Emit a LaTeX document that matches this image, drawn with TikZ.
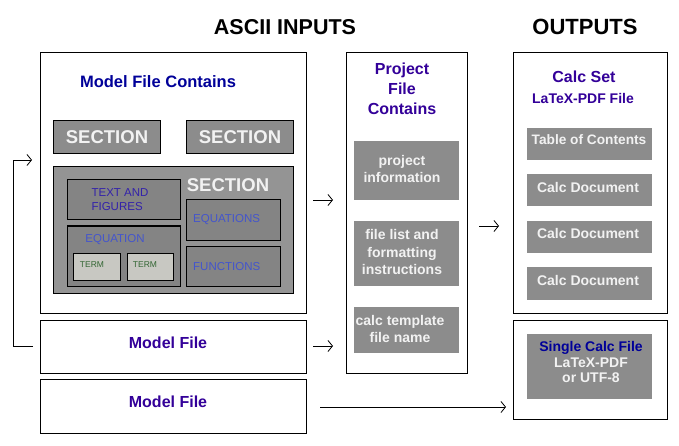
\documentclass[tikz,border=0pt]{standalone}
\usepackage{fontspec}
\setmainfont{Liberation Sans}
\usepackage{tikz}
\usetikzlibrary{arrows.meta}
\definecolor{boxgray}{RGB}{140,140,140}
\definecolor{secgray}{RGB}{148,148,148}
\definecolor{partgray}{RGB}{132,132,132}
\definecolor{termgray}{RGB}{200,200,194}
\definecolor{navy}{RGB}{0,0,153}
\definecolor{plum}{RGB}{51,0,153}
\definecolor{eqblue}{RGB}{68,85,204}
\definecolor{figblue}{RGB}{51,34,170}
\definecolor{termgreen}{RGB}{51,102,51}
\definecolor{paper}{RGB}{242,242,242}
\tikzstyle{arrow} = [thick,->,>={Straight Barb[length=4.5pt,width=11pt]}]
\tikzstyle{filebox} = [draw, line width=1pt, fill=white, inner sep=0pt]
\tikzstyle{secbox} = [draw, line width=1pt, fill=boxgray, text=paper, font=\bfseries\fontsize{18.5}{20}\selectfont, inner sep=0pt]
\tikzstyle{partbox} = [draw, line width=1pt, fill=partgray, inner sep=0pt]
\tikzstyle{termbox} = [draw, line width=1pt, fill=termgray, inner sep=0pt]
\tikzstyle{graybox} = [fill=boxgray, text=paper, align=center, inner sep=0pt, font=\bfseries\fontsize{14}{17.5}\selectfont]
\tikzstyle{heading} = [text=plum, align=center, font=\bfseries\fontsize{16}{20}\selectfont]

\begin{document}
\begin{tikzpicture}[x=1pt, y=-1pt]
        \useasboundingbox (0,0) rectangle (679,446);

        % Titles
        \node at (285,27) (inputs) {\bfseries\fontsize{21.5}{24}\selectfont ASCII INPUTS};
        \node at (585,27) (outputs) {\bfseries\fontsize{22}{24}\selectfont OUTPUTS};

        % Model file box
        \node at (173,183) [filebox, minimum width=266, minimum height=260] (model) {};
        \node at (158,82) [heading, text=navy, font=\bfseries\fontsize{16.5}{20}\selectfont] (modeltitle) {Model File Contains};
        \node at (107,137) [secbox, minimum width=107, minimum height=33] (sec1) {SECTION};
        \node at (240,137) [secbox, minimum width=107, minimum height=33] (sec2) {SECTION};

        % Big section
        \node at (173,230) [draw, line width=1pt, fill=secgray, minimum width=240, minimum height=126] (sec3) {};
        \node at (228,185) [text=paper, font=\bfseries\fontsize{18.5}{20}\selectfont] (sec3title) {SECTION};
        \node at (123.5,200) [partbox, minimum width=113, minimum height=40] (textfig) {};
        \node at (120,200) [text=figblue, align=left, font=\fontsize{11.5}{14}\selectfont] (textfiglabel) {TEXT AND\\FIGURES};
        \node at (123.5,256) [partbox, minimum width=113, minimum height=60] (eqn) {};
        \node at (115,240) [text=eqblue, font=\fontsize{11.5}{14}\selectfont] (eqnlabel) {EQUATION};
        \node at (96.5,266.5) [termbox, minimum width=47, minimum height=27] (term1) {};
        \node at (150,266.5) [termbox, minimum width=46, minimum height=27] (term2) {};
        \node at (92,265) [text=termgreen, font=\fontsize{8.5}{10}\selectfont] (term1label) {TERM};
        \node at (145,265) [text=termgreen, font=\fontsize{8.5}{10}\selectfont] (term2label) {TERM};
        \node at (233,220) [partbox, minimum width=94, minimum height=40] (eqns) {};
        \node at (193,220) [right, inner sep=0pt, text=eqblue, font=\fontsize{11.5}{14}\selectfont] (eqnslabel) {EQUATIONS};
        \node at (233,266) [partbox, minimum width=94, minimum height=40] (funcs) {};
        \node at (193,267) [right, inner sep=0pt, text=eqblue, font=\fontsize{11.5}{14}\selectfont] (funcslabel) {FUNCTIONS};

        % Model files
        \node at (173,346.5) [filebox, minimum width=266, minimum height=53] (mf1) {};
        \node at (168,343) [heading] (mf1label) {Model File};
        \node at (173,406) [filebox, minimum width=266, minimum height=54] (mf2) {};
        \node at (168,402) [heading] (mf2label) {Model File};

        % Project file
        \node at (406.5,213) [filebox, minimum width=121, minimum height=320] (project) {};
        \node at (402,89) [heading] (projtitle) {Project\\File\\Contains};
        \node at (406.5,170.5) [graybox, minimum width=105, minimum height=59] (pinfo) {};
        \node at (402,169) [graybox, fill=none] (pinfolabel) {project\\information};
        \node at (406.5,253.5) [graybox, minimum width=105, minimum height=65] (plist) {};
        \node at (402,252) [graybox, fill=none] (plistlabel) {file list and\\formatting\\instructions};
        \node at (406.5,330) [graybox, minimum width=105, minimum height=46] (ptmpl) {};
        \node at (400,329) [graybox, fill=none] (ptmpllabel) {calc template\\file name};

        % Calc set
        \node at (590,183) [filebox, minimum width=154, minimum height=260] (calcset) {};
        \node at (584,77) [heading] (calctitle) {Calc Set};
        \node at (583,98) [heading, font=\bfseries\fontsize{14}{17}\selectfont] (calcsub) {LaTeX-PDF File};
        \node at (589.5,144) [graybox, minimum width=125, minimum height=32] (toc) {};
        \node at (589,140) [graybox, fill=none, font=\bfseries\fontsize{13.7}{16}\selectfont] (toclabel) {Table of Contents};
        \node at (589.5,190) [graybox, minimum width=125, minimum height=32] (cd1) {};
        \node at (588,187) [graybox, fill=none] (cd1label) {Calc Document};
        \node at (589.5,237) [graybox, minimum width=125, minimum height=32] (cd2) {};
        \node at (588,233) [graybox, fill=none] (cd2label) {Calc Document};
        \node at (589.5,283.5) [graybox, minimum width=125, minimum height=33] (cd3) {};
        \node at (588,280) [graybox, fill=none] (cd3label) {Calc Document};

        % Single calc
        \node at (590,369.5) [filebox, minimum width=154, minimum height=99] (single) {};
        \node at (589.5,366.5) [graybox, minimum width=125, minimum height=65] (singlebox) {};
        \node at (591,362) [graybox, fill=none, font=\bfseries\fontsize{14}{15.5}\selectfont] (singlelabel) {\textcolor{navy}{Single Calc File}\\LaTeX-PDF\\or UTF-8};

        % Arrows
        \coordinate (loopstart) at (33,346);
        \coordinate (loopcorner) at (13,346);
        \coordinate (loopend) at (32,160);
        \draw [thick] (loopstart) -- (loopcorner);
        \draw [arrow] (loopcorner) |- (loopend);
        \coordinate (a1s) at (313,200);
        \coordinate (a1e) at (333,200);
        \draw [arrow] (a1s) -- (a1e);
        \coordinate (a2s) at (313,346);
        \coordinate (a2e) at (333,346);
        \draw [arrow] (a2s) -- (a2e);
        \coordinate (a3s) at (479,226);
        \coordinate (a3e) at (499,226);
        \draw [arrow] (a3s) -- (a3e);
        \coordinate (a4s) at (320,407);
        \coordinate (a4e) at (506,407);
        \draw [arrow] (a4s) -- (a4e);

\end{tikzpicture}
\end{document}
